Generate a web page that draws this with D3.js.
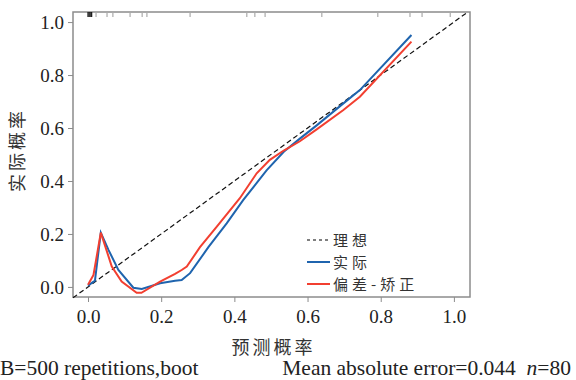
<!DOCTYPE html>
<html lang="zh">
	<head>
		<meta charset="utf-8">
		<title>Calibration curve</title>
		<script type="text/javascript" src="https://cdn.jsdelivr.net/npm/d3@7"></script>
		<style type="text/css">
			body { margin: 0; background: #fff; }
			text { font-family: 'Liberation Serif', 'DejaVu Serif', serif; fill: #222; }
			.cjk { font-family: 'Noto Sans CJK SC', sans-serif; fill: #333; }
		</style>
	</head>
	<body>
		<script type="text/javascript">

			//Tick values
			let xTicks = [0, 0.2, 0.4, 0.6, 0.8, 1.0];
			let yTicks = [0, 0.2, 0.4, 0.6, 0.8, 1.0];

			//Apparent (实际) curve
			let apparentX = [0.0, 0.019, 0.035, 0.056, 0.083, 0.124, 0.147, 0.197, 0.238, 0.256, 0.279, 0.329, 0.379, 0.424, 0.488, 0.535, 0.579, 0.625, 0.698, 0.743, 0.884];
			let apparentY = [0.005, 0.024, 0.205, 0.14, 0.064, -0.003, -0.008, 0.014, 0.023, 0.026, 0.052, 0.15, 0.24, 0.328, 0.44, 0.51, 0.56, 0.61, 0.693, 0.743, 0.951];

			//Bias-corrected (偏差-矫正) curve
			let correctedX = [0.0, 0.015, 0.035, 0.065, 0.092, 0.133, 0.146, 0.197, 0.238, 0.256, 0.27, 0.306, 0.352, 0.415, 0.461, 0.497, 0.535, 0.579, 0.625, 0.698, 0.743, 0.884];
			let correctedY = [0.008, 0.045, 0.205, 0.077, 0.02, -0.022, -0.022, 0.02, 0.049, 0.064, 0.077, 0.15, 0.228, 0.335, 0.429, 0.48, 0.515, 0.55, 0.595, 0.668, 0.718, 0.926];

			//Rug of predicted probabilities along the top
			let rug = [0.0, 0.003, 0.006, 0.01, 0.022, 0.052, 0.068, 0.115, 0.148, 0.161, 0.279, 0.434, 0.456, 0.484, 0.639, 0.792, 0.88, 0.913, 0.99];

			//Legend labels
			let legendLabels = ["理想", "实际", "偏差-矫正"];
			let legendColors = ["#000", "#1f64ae", "#f23f30"];

			let w = 576;
			let h = 380;
			let mLeft = 73, mRight = 470, mTop = 12, mBottom = 297;

			let x = d3.scaleLinear().domain([-0.041, 1.044]).range([mLeft, mRight]);
			let y = d3.scaleLinear().domain([-0.038, 1.038]).range([mBottom, mTop]);

			let svg = d3.select("body")
						.append("svg")
						  .attr("width", w)
						  .attr("height", h);

			//Frame
			svg.append("rect")
				.attr("x", mLeft).attr("y", mTop)
				.attr("width", mRight - mLeft).attr("height", mBottom - mTop)
				.attr("fill", "none")
				.attr("stroke", "#8c8c8c")
				.attr("stroke-width", 1.5);

			//Axes
			let xAxis = svg.append("g")
				.attr("transform", `translate(0,${mBottom})`)
				.call(d3.axisBottom(x).tickValues(xTicks).tickFormat(d3.format(".1f")).tickSize(5).tickPadding(8));
			let yAxis = svg.append("g")
				.attr("transform", `translate(${mLeft},0)`)
				.call(d3.axisLeft(y).tickValues(yTicks).tickFormat(d3.format(".1f")).tickSize(5).tickPadding(4));
			[xAxis, yAxis].forEach(g => {
				g.attr("font-family", null);
				g.select(".domain").remove();
				g.selectAll("line").attr("stroke", "#8c8c8c");
				g.selectAll("text")
					.style("font-family", "'Liberation Serif', serif")
					.style("font-size", "19px")
					.attr("fill", "#222");
			});

			//Rug ticks
			svg.selectAll(".rug")
				.data(rug)
				.enter()
			  .append("line")
				.attr("class", "rug")
				.attr("x1", d => x(d)).attr("x2", d => x(d))
				.attr("y1", mTop).attr("y2", mTop + 5)
				.attr("stroke", d => d < 0.015 ? "#111" : "#aaa")
				.attr("stroke-width", 1.2);

			//Ideal line
			svg.append("line")
				.attr("x1", x(-0.041)).attr("y1", y(-0.041))
				.attr("x2", x(1.038)).attr("y2", y(1.038))
				.attr("stroke", "#111")
				.attr("stroke-width", 1.2)
				.attr("stroke-dasharray", "5,3");

			let line = d3.line()
				.x(d => x(d[0]))
				.y(d => y(d[1]));

			svg.append("path")
				.datum(d3.zip(apparentX, apparentY))
				.attr("d", line)
				.attr("fill", "none")
				.attr("stroke", legendColors[1])
				.attr("stroke-width", 2);

			svg.append("path")
				.datum(d3.zip(correctedX, correctedY))
				.attr("d", line)
				.attr("fill", "none")
				.attr("stroke", legendColors[2])
				.attr("stroke-width", 2);

			//Legend
			let legend = svg.append("g").attr("transform", "translate(307,240)");
			legendLabels.forEach((lab, i) => {
				let g = legend.append("g").attr("transform", `translate(0,${i * 22})`);
				g.append("line")
					.attr("x1", 0).attr("x2", 23)
					.attr("stroke", legendColors[i])
					.attr("stroke-width", i == 0 ? 1.2 : 2)
					.attr("stroke-dasharray", i == 0 ? "3,3" : null);
				g.append("text")
					.attr("class", "cjk")
					.attr("x", 26).attr("y", 5.5)
					.style("font-size", "15px")
					.style("letter-spacing", "4px")
					.text(lab);
			});

			//Axis titles
			svg.append("text")
				.attr("class", "cjk")
				.attr("x", (mLeft + mRight) / 2 + 2).attr("y", 354)
				.attr("text-anchor", "middle")
				.style("font-size", "18px")
				.style("letter-spacing", "3px")
				.text("预测概率");
			svg.append("text")
				.attr("class", "cjk")
				.attr("transform", "translate(24,150) rotate(-90)")
				.attr("text-anchor", "middle")
				.style("font-size", "18px")
				.style("letter-spacing", "3px")
				.text("实际概率");

			//Footnotes
			svg.append("text")
				.attr("x", 0).attr("y", 375)
				.style("font-size", "21.5px")
				.text("B=500 repetitions,boot");
			let foot = svg.append("text")
				.attr("x", 571).attr("y", 375)
				.attr("text-anchor", "end")
				.style("font-size", "21.5px");
			foot.append("tspan").text("Mean absolute error=0.044\u00a0\u00a0");
			foot.append("tspan").style("font-style", "italic").text("n");
			foot.append("tspan").text("=80");

		</script>
	</body>
</html>
